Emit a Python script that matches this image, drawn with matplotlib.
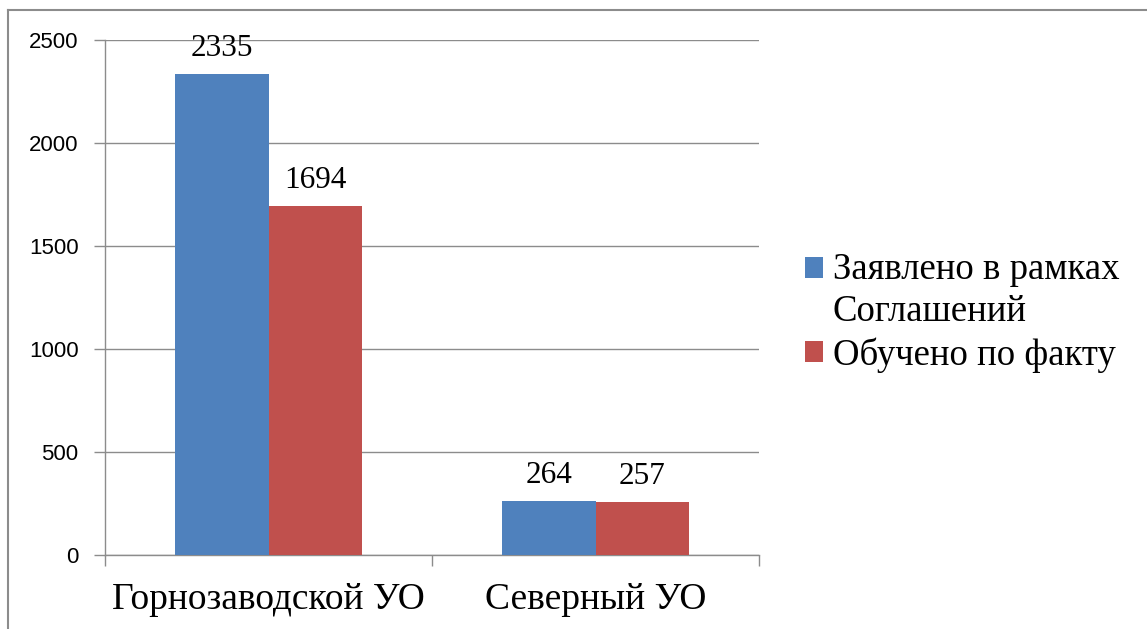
import matplotlib
matplotlib.use("Agg")
import matplotlib.pyplot as plt
from matplotlib.lines import Line2D
from matplotlib.patches import Patch, Rectangle
from matplotlib.legend_handler import HandlerPatch
import numpy as np

categories = ["Горнозаводской УО", "Северный УО"]
series_names = ["Заявлено в рамках\nСоглашений", "Обучено по факту"]
declared = [2335, 264]
trained = [1694, 257]
colors = ["#4F81BD", "#C0504D"]
yticks = [0, 500, 1000, 1500, 2000, 2500]

fig = plt.figure(figsize=(11.47, 6.29), dpi=100)
ax = fig.add_axes([105/1147, 1-555/629, 654/1147, 515/629])

x = np.arange(len(categories))
w = 0.285
b1 = ax.bar(x - w/2, declared, w, color=colors[0], label=series_names[0], zorder=3)
b2 = ax.bar(x + w/2, trained, w, color=colors[1], label=series_names[1], zorder=3)

serif = ["Liberation Serif", "DejaVu Serif"]
for bars, vals in ((b1, declared), (b2, trained)):
    for r, v in zip(bars, vals):
        ax.annotate(str(v), (r.get_x() + r.get_width()/2, v), xytext=(0, 8),
                    textcoords="offset points", ha="center", va="bottom",
                    fontsize=22.5, family=serif)

ax.set_xlim(-0.5, 1.5)
ax.set_ylim(0, 2500)
ax.set_yticks(yticks)
ax.set_yticklabels([str(t) for t in yticks], family="Liberation Sans", fontsize=16)
ax.yaxis.grid(True, color="#8c8c8c", lw=1, zorder=0)
ax.set_xticks([-0.5, 0.5, 1.5], minor=False)
ax.set_xticklabels([])
ax.set_xticks(x, minor=True)
ax.set_xticklabels(categories, minor=True, family=serif, fontsize=27)
ax.tick_params(axis="x", which="minor", length=0, pad=20)
ax.tick_params(axis="x", which="major", length=8, color="#8c8c8c", width=1)
ax.tick_params(axis="y", length=8, color="#8c8c8c", width=1, pad=11)
for s in ("top", "right"):
    ax.spines[s].set_visible(False)
for s in ("left", "bottom"):
    ax.spines[s].set_color("#8c8c8c")
    ax.spines[s].set_linewidth(1)


def top_square(legend, orig_handle, xdescent, ydescent, width, height, fontsize):
    return Rectangle((-xdescent, -ydescent + 0.62 * fontsize), width, height)


def square(legend, orig_handle, xdescent, ydescent, width, height, fontsize):
    return Rectangle((-xdescent, -ydescent), width, height)


handles = [Patch(facecolor=colors[0], label=series_names[0]),
           Patch(facecolor=colors[1], label=series_names[1])]
leg = fig.legend(handles=handles, loc="upper left", bbox_to_anchor=(805/1147, 1-252/629),
                 frameon=False, prop={"family": serif, "size": 26.5},
                 handlelength=0.5, handleheight=0.5, handletextpad=0.25,
                 labelspacing=0.22, borderaxespad=0, borderpad=0,
                 handler_map={handles[0]: HandlerPatch(patch_func=top_square),
                              handles[1]: HandlerPatch(patch_func=square)})
leg.get_texts()[0].set_linespacing(1.3)

fig.add_artist(Line2D([8/1147, 8/1147], [0, 1-10/629], transform=fig.transFigure, color="#8c8c8c", lw=1.5))
fig.add_artist(Line2D([8/1147, 1], [1-10/629, 1-10/629], transform=fig.transFigure, color="#8c8c8c", lw=1.5))

fig.savefig("out.png", dpi=100)
